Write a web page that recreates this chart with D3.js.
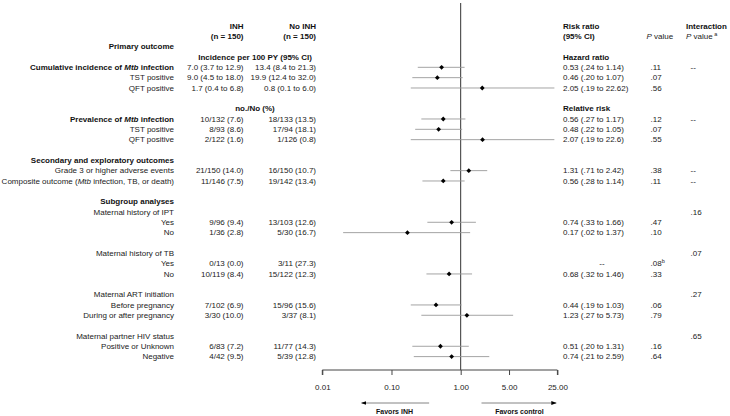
<!DOCTYPE html>
<html><head><meta charset="utf-8">
<script src="https://cdn.jsdelivr.net/npm/d3@7"></script>
<style>
html,body{margin:0;padding:0;background:#fff;}
text{font-family:"Liberation Sans",Arial,sans-serif;font-size:8px;fill:#222;}
.b{font-weight:bold;fill:#111;}
</style></head>
<body><svg id="c" width="730" height="416"></svg>
<script>
// ---- data (slot = row index) ----
const rowSlots   = [4,5,6,9,10,11,14,15,19,20,23,24,27,28,31,32];
const rowLabels  = ["Cumulative incidence of Mtb infection","TST positive","QFT positive",
  "Prevalence of Mtb infection","TST positive","QFT positive",
  "Grade 3 or higher adverse events","Composite outcome (Mtb infection, TB, or death)",
  "Yes","No","Yes","No","Before pregnancy","During or after pregnancy","Positive or Unknown","Negative"];
const rowBold    = [true,false,false,true,false,false,false,false,false,false,false,false,false,false,false,false];
const inhVals    = ["7.0 (3.7 to 12.9)","9.0 (4.5 to 18.0)","1.7 (0.4 to 6.8)","10/132 (7.6)","8/93 (8.6)","2/122 (1.6)",
  "21/150 (14.0)","11/146 (7.5)","9/96 (9.4)","1/36 (2.8)","0/13 (0.0)","10/119 (8.4)","7/102 (6.9)","3/30 (10.0)","6/83 (7.2)","4/42 (9.5)"];
const noInhVals  = ["13.4 (8.4 to 21.3)","19.9 (12.4 to 32.0)","0.8 (0.1 to 6.0)","18/133 (13.5)","17/94 (18.1)","1/126 (0.8)",
  "16/150 (10.7)","19/142 (13.4)","13/103 (12.6)","5/30 (16.7)","3/11 (27.3)","15/122 (12.3)","15/96 (15.6)","3/37 (8.1)","11/77 (14.3)","5/39 (12.8)"];
const estimates  = [0.53,0.46,2.05,0.56,0.48,2.07,1.31,0.56,0.74,0.17,null,0.68,0.44,1.23,0.51,0.74];
const lowerCI    = [0.24,0.20,0.19,0.27,0.22,0.19,0.71,0.28,0.33,0.02,null,0.32,0.19,0.27,0.20,0.21];
const upperCI    = [1.14,1.07,22.62,1.17,1.05,22.6,2.42,1.14,1.66,1.37,null,1.46,1.03,5.73,1.31,2.59];
const rrText     = ["0.53 (.24 to 1.14)","0.46 (.20 to 1.07)","2.05 (.19 to 22.62)","0.56 (.27 to 1.17)","0.48 (.22 to 1.05)","2.07 (.19 to 22.6)",
  "1.31 (.71 to 2.42)","0.56 (.28 to 1.14)","0.74 (.33 to 1.66)","0.17 (.02 to 1.37)","--","0.68 (.32 to 1.46)","0.44 (.19 to 1.03)","1.23 (.27 to 5.73)","0.51 (.20 to 1.31)","0.74 (.21 to 2.59)"];
const pVals      = [".11",".07",".56",".12",".07",".55",".38",".11",".47",".10",".08",".33",".06",".79",".16",".64"];
const pSup       = ["","","","","","","","","","","b","","","","",""];
const interSlots = [4,9,14,15,18,22,26,30];
const interVals  = ["--","--","--","--",".16",".07",".27",".65"];
const sectionSlots  = [2,13,17,18,22,26,30];
const sectionLabels = ["Primary outcome","Secondary and exploratory outcomes","Subgroup analyses",
  "Maternal history of IPT","Maternal history of TB","Maternal ART initiation","Maternal partner HIV status"];
const sectionBold   = [true,true,true,false,false,false,false];
const subHeadSlots  = [3,8];
const subHeadMid    = ["Incidence per 100 PY (95% CI)","no./No (%)"];
const subHeadRight  = ["Hazard ratio","Relative risk"];
const tickValues = [0.01,0.1,1,5,25];
const tickLabels = ["0.01","0.10","1.00","5.00","25.00"];

// ---- layout ----
const svg = d3.select("#c");
const y = d3.scaleLinear().domain([0,32]).range([26,356.6]);
const x = d3.scaleLog().domain([0.01,25]).range([322.3,557.4]);
const colLabel = 174, colInh = 243.5, colNo = 316, colMid = 255, colRR = 563, colP = 650.5, colInt = 690.5;

function addText(g, str, xx, yy, anchor, bold){
  const t = g.append("text").attr("x",xx).attr("y",yy).attr("dy","0.35em")
    .attr("text-anchor",anchor).attr("class",bold?"b":null);
  const parts = str.split(/(Mtb)/);
  parts.forEach(p=>{ if(!p) return; const s=t.append("tspan").text(p); if(p==="Mtb") s.attr("font-style","italic"); });
  return t;
}
const g = svg.append("g");

// headers
addText(g,"INH",colInh,y(0),"end",true);
addText(g,"(n = 150)",colInh,y(1),"end",true);
addText(g,"No INH",colNo,y(0),"end",true);
addText(g,"(n = 150)",colNo,y(1),"end",true);
addText(g,"Risk ratio",colRR,y(0),"start",true);
addText(g,"(95% CI)",colRR,y(1),"start",true);
const ph = g.append("text").attr("x",646.5).attr("y",y(1)).attr("dy","0.35em");
ph.append("tspan").attr("font-style","italic").text("P");
ph.append("tspan").text(" value");
addText(g,"Interaction",686,y(0),"start",true);
const ih = g.append("text").attr("x",686).attr("y",y(1)).attr("dy","0.35em");
ih.append("tspan").attr("font-style","italic").text("P");
ih.append("tspan").text(" value");
ih.append("tspan").attr("font-size","5.5px").attr("dy","-3").text(" a");

sectionLabels.forEach((s,i)=>addText(g,s,colLabel,y(sectionSlots[i]),"end",sectionBold[i]));
subHeadMid.forEach((s,i)=>addText(g,s,colMid,y(subHeadSlots[i]),"middle",true));
subHeadRight.forEach((s,i)=>addText(g,s,colRR,y(subHeadSlots[i]),"start",true));

rowLabels.forEach((s,i)=>{
  const yy = y(rowSlots[i]);
  addText(g,s,colLabel,yy,"end",rowBold[i]);
  addText(g,inhVals[i],colInh,yy,"end",false);
  addText(g,noInhVals[i],colNo,yy,"end",false);
  if(rrText[i]==="--") addText(g,"--",602,yy,"middle",false);
  else addText(g,rrText[i],colRR,yy,"start",false);
  const pt = addText(g,pVals[i],colP,yy,"start",false);
  if(pSup[i]) pt.append("tspan").attr("font-size","5.5px").attr("dy","-3").text(pSup[i]);
});
interVals.forEach((s,i)=>addText(g,s,colInt,y(interSlots[i]),"start",false));

// forest
const axisY = 370;
svg.append("line").attr("x1",x(1)).attr("x2",x(1)).attr("y1",3).attr("y2",axisY)
  .attr("stroke","#333").attr("stroke-width",1);
const fg = svg.append("g");
rowSlots.forEach((s,i)=>{
  if(estimates[i]==null) return;
  const yy = y(s);
  fg.append("line").attr("x1",x(lowerCI[i])).attr("x2",x(upperCI[i])).attr("y1",yy).attr("y2",yy)
    .attr("stroke","#9a9a9a").attr("stroke-width",0.9);
  const cx = x(estimates[i]), r = 2.4;
  fg.append("path").attr("d",`M${cx},${yy-r}L${cx+r},${yy}L${cx},${yy+r}L${cx-r},${yy}Z`).attr("fill","#000");
});

// axis
const ax = d3.axisBottom(x).tickValues(tickValues).tickFormat((d,i)=>tickLabels[i]).tickSize(5).tickPadding(9);
const axg = svg.append("g").attr("transform",`translate(0,${axisY})`).call(ax);
axg.select(".domain").attr("stroke","#444").attr("d",`M${x(0.01)},5V0H${x(25)}V5`);
axg.selectAll(".tick line").attr("stroke","#444");
axg.selectAll(".tick text").attr("font-family","Liberation Sans, Arial, sans-serif").attr("font-size","8.2px").attr("fill","#222");

// favors arrows
const defs = svg.append("defs");
defs.append("marker").attr("id","ah").attr("viewBox","0 0 10 10").attr("refX",9).attr("refY",5)
  .attr("markerWidth",6).attr("markerHeight",6).attr("orient","auto-start-reverse")
  .append("path").attr("d","M0,1.5L10,5L0,8.5Z").attr("fill","#000");
const ay = 403;
svg.append("line").attr("x1",x(0.35)).attr("x2",x(0.037)).attr("y1",ay).attr("y2",ay)
  .attr("stroke","#777").attr("stroke-width",0.9).attr("marker-end","url(#ah)");
svg.append("line").attr("x1",x(2.0)).attr("x2",x(24)).attr("y1",ay).attr("y2",ay)
  .attr("stroke","#777").attr("stroke-width",0.9).attr("marker-end","url(#ah)");
addText(svg,"Favors INH",(x(0.35)+x(0.035))/2,411.5,"middle",true).style("font-size","7px");
addText(svg,"Favors control",(x(2.0)+x(25))/2,411.5,"middle",true).style("font-size","7px");
</script></body></html>
